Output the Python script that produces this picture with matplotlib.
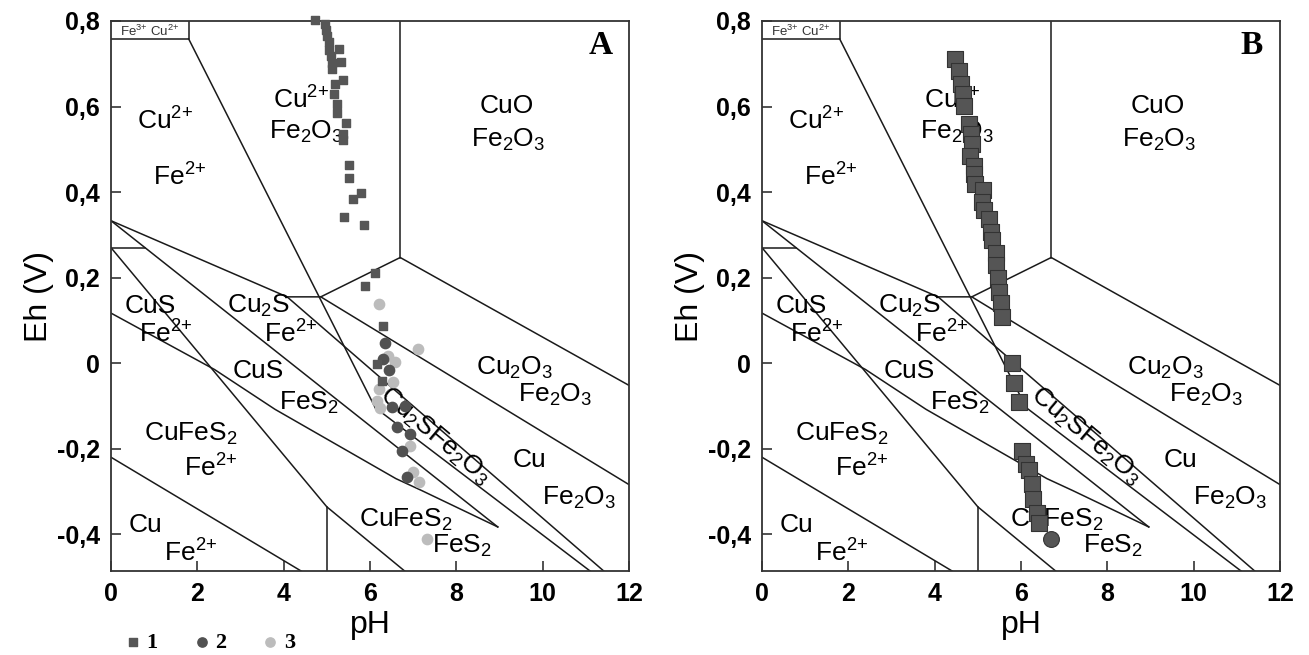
import matplotlib.pyplot as plt
from matplotlib.ticker import FuncFormatter

plt.rcParams['font.family'] = ['Liberation Sans', 'DejaVu Sans']
plt.rcParams['mathtext.fontset'] = 'custom'
plt.rcParams['mathtext.rm'] = 'Liberation Sans'
plt.rcParams['mathtext.it'] = 'Liberation Sans:italic'
plt.rcParams['mathtext.bf'] = 'Liberation Sans:bold'

# field boundaries of the diagram, each one a polyline (pH list, Eh list)
box_ph, box_eh = [0, 1.8, 1.8], [0.758, 0.758, 0.8]
fe_ph, fe_eh = [1.8, 6.12], [0.758, -0.104]
cuo_ph, cuo_eh = [6.7, 6.7], [0.8, 0.247]
cu2o_ph, cu2o_eh = [4.08, 4.86, 6.7, 12], [0.155, 0.155, 0.247, -0.052]
cu_ph, cu_eh = [4.86, 12], [0.155, -0.284]
cu2s_ph, cu2s_eh = [0, 4.08, 11.46], [0.333, 0.155, -0.49]
cus_ph, cus_eh = [0, 8.96], [0.333, -0.383]
hor_ph, hor_eh = [0, 0.79], [0.27, 0.27]
cpy_ph, cpy_eh = [0, 5.0, 6.85], [0.27, -0.336, -0.49]
vert_ph, vert_eh = [5.0, 5.0], [-0.336, -0.49]
py_ph = [0, 2.4, 3.8, 6.6, 7.2, 8.96]
py_eh = [0.117, -0.015, -0.108, -0.27, -0.298, -0.383]
band_ph, band_eh = [6.12, 11.15], [-0.104, -0.49]
cufe_ph, cufe_eh = [0, 4.47], [-0.22, -0.49]

boundaries = [(box_ph, box_eh), (fe_ph, fe_eh), (cuo_ph, cuo_eh),
              (cu2o_ph, cu2o_eh), (cu_ph, cu_eh), (cu2s_ph, cu2s_eh),
              (cus_ph, cus_eh), (hor_ph, hor_eh), (cpy_ph, cpy_eh),
              (vert_ph, vert_eh), (py_ph, py_eh), (band_ph, band_eh),
              (cufe_ph, cufe_eh)]

# field labels: text, pH, Eh
labels = [
    (r'Cu$^{2{+}}$', 1.26, 0.567), (r'Fe$^{2{+}}$', 1.6, 0.435),
    (r'Cu$^{2{+}}$', 4.4, 0.616), (r'Fe$_2$O$_3$', 4.51, 0.54),
    ('CuO', 9.16, 0.602), (r'Fe$_2$O$_3$', 9.2, 0.523),
    ('CuS', 0.9, 0.133), (r'Fe$^{2{+}}$', 1.26, 0.067),
    (r'Cu$_2$S', 3.42, 0.133), (r'Fe$^{2{+}}$', 4.16, 0.067),
    ('CuS', 3.42, -0.019), (r'FeS$_2$', 4.58, -0.093),
    (r'Cu$_2$O$_3$', 9.35, -0.012), (r'Fe$_2$O$_3$', 10.3, -0.075),
    (r'CuFeS$_2$', 1.84, -0.165), (r'Fe$^{2{+}}$', 2.3, -0.244),
    ('Cu', 9.7, -0.226), (r'Fe$_2$O$_3$', 10.84, -0.314),
    (r'CuFeS$_2$', 6.84, -0.367), (r'FeS$_2$', 8.12, -0.428),
    ('Cu', 0.79, -0.379), (r'Fe$^{2{+}}$', 1.84, -0.444),
]

# panel A measurements
a1_ph = [4.72, 4.95, 4.97, 5.00, 5.05, 5.28, 5.06, 5.09, 5.32, 5.11, 5.12,
         5.37, 5.20, 5.16, 5.23, 5.23, 5.45, 5.37, 5.37, 5.51, 5.51, 5.78,
         5.60, 5.39, 5.85, 6.12, 5.88, 6.29, 6.16, 6.27]
a1_eh = [0.802, 0.794, 0.780, 0.765, 0.751, 0.735, 0.733, 0.719, 0.705,
         0.702, 0.687, 0.663, 0.652, 0.629, 0.605, 0.586, 0.561, 0.536,
         0.521, 0.463, 0.433, 0.398, 0.384, 0.342, 0.323, 0.210, 0.180,
         0.086, -0.003, -0.042]
a2_ph = [6.35, 6.31, 6.44, 6.50, 6.81, 6.62, 6.93, 6.74, 6.85]
a2_eh = [0.046, 0.009, -0.016, -0.102, -0.100, -0.150, -0.166, -0.206, -0.267]
a3_ph = [6.22, 7.12, 6.41, 6.58, 6.54, 6.20, 6.16, 6.24, 6.93, 7.00, 7.14, 7.31]
a3_eh = [0.139, 0.033, 0.016, 0.003, -0.043, -0.061, -0.088, -0.104,
         -0.193, -0.255, -0.278, -0.412]

# panel B measurements
b1_ph = [4.48, 4.56, 4.61, 4.65, 4.67, 4.80, 4.84, 4.87, 4.82, 4.92, 4.90,
         4.94, 5.11, 5.09, 5.15, 5.25, 5.30, 5.33, 5.42, 5.42, 5.46, 5.48,
         5.54, 5.56, 5.79, 5.84, 5.96, 6.03, 6.11, 6.18, 6.25, 6.28, 6.38,
         6.42]
b1_eh = [0.712, 0.683, 0.652, 0.629, 0.602, 0.559, 0.536, 0.512, 0.485,
         0.462, 0.443, 0.419, 0.404, 0.377, 0.357, 0.338, 0.307, 0.288,
         0.257, 0.230, 0.198, 0.167, 0.140, 0.109, 0.001, -0.046, -0.092,
         -0.205, -0.236, -0.251, -0.282, -0.317, -0.350, -0.374]
b2_ph = [6.69]
b2_eh = [-0.412]

W, H = 1309, 655
fig = plt.figure(figsize=(W / 100, H / 100), dpi=100)
axA = fig.add_axes([111 / W, 1 - 571 / H, 518 / W, 550 / H])
axB = fig.add_axes([762 / W, 1 - 571 / H, 518 / W, 550 / H])


def comma(v, pos):
    if abs(v) < 1e-9:
        return '0'
    return ('%.1f' % v).replace('.', ',')


def draw_diagram(ax, letter):
    for xs, ys in boundaries:
        ax.plot(xs, ys, color='#1a1a1a', lw=1.1, zorder=2)
    for txt, x, y in labels:
        ax.text(x, y, txt, fontsize=19, ha='center', va='center', zorder=3)
    ax.text(0.9, 0.776, r'Fe$^{3{+}}$ Cu$^{2{+}}$', fontsize=9.5,
            ha='center', va='center', color='#333333')
    ax.text(7.5, -0.17, r'Cu$_2$SFe$_2$O$_3$', fontsize=19, rotation=-40,
            ha='center', va='center', zorder=3)
    ax.text(11.35, 0.742, letter, fontsize=24, fontweight='bold',
            family='Liberation Serif', ha='center', va='center')
    ax.set_xlim(0, 12)
    ax.set_ylim(-0.486, 0.794)
    ax.set_xticks([0, 2, 4, 6, 8, 10, 12])
    ax.set_yticks([-0.4, -0.2, 0, 0.2, 0.4, 0.6, 0.8])
    ax.yaxis.set_major_formatter(FuncFormatter(comma))
    ax.tick_params(direction='in', length=7, width=1.2, labelsize=18, pad=8,
                   color='#333333')
    for lab in ax.get_xticklabels() + ax.get_yticklabels():
        lab.set_fontweight('bold')
    for sp in ax.spines.values():
        sp.set_linewidth(1.3)
        sp.set_color('#333333')
    ax.set_xlabel('pH', fontsize=23, labelpad=3)
    ax.set_ylabel('Eh (V)', fontsize=23, labelpad=2)


draw_diagram(axA, 'A')
draw_diagram(axB, 'B')

h3 = axA.scatter(a3_ph, a3_eh, s=55, marker='o', color='#bcbcbc', zorder=4,
                 clip_on=False)
h2 = axA.scatter(a2_ph, a2_eh, s=55, marker='o', color='#515151', zorder=5,
                 clip_on=False)
h1 = axA.scatter(a1_ph, a1_eh, s=36, marker='s', color='#565656', zorder=6,
                 clip_on=False)

axB.scatter(b1_ph, b1_eh, s=120, marker='s', facecolor='#555555',
            edgecolor='#333333', linewidth=0.8, zorder=6, clip_on=False)
axB.scatter(b2_ph, b2_eh, s=130, marker='o', facecolor='#555555',
            edgecolor='#333333', linewidth=0.8, zorder=6, clip_on=False)

fig.legend([h1, h2, h3], ['1', '2', '3'], ncol=3, frameon=False,
           loc='lower left', bbox_to_anchor=(106 / W, -0.02),
           prop={'family': 'Liberation Serif', 'weight': 'bold', 'size': 16},
           handletextpad=0.1, columnspacing=1.5, handlelength=1.0,
           markerscale=0.9, borderpad=0.2)

fig.savefig('out.png', dpi=100)
